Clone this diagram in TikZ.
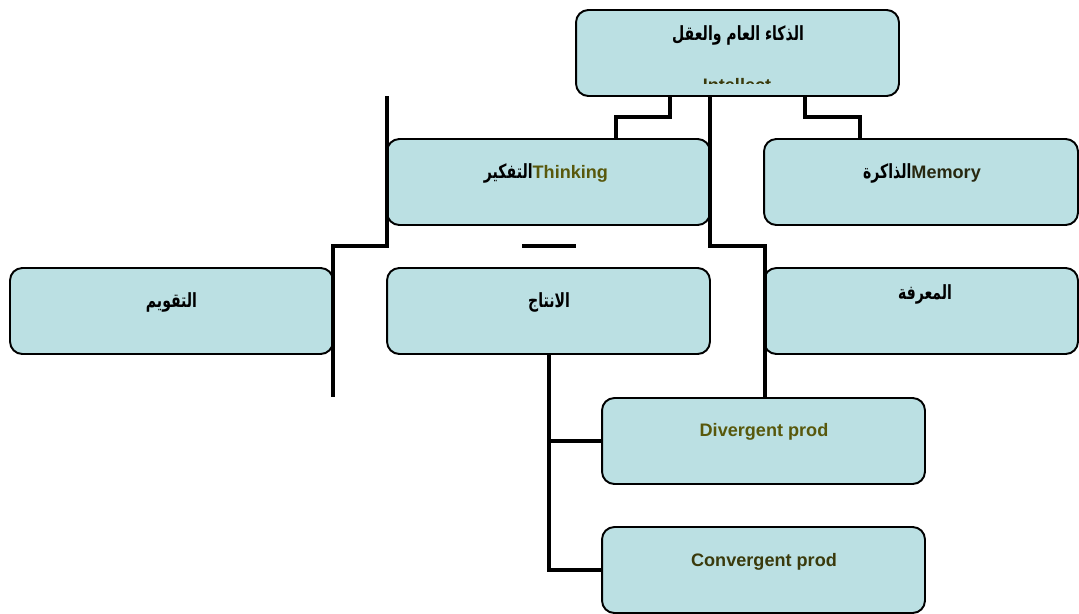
\documentclass[tikz,border=0pt]{standalone}
\usepackage{fontspec}
\setmainfont{Liberation Sans}
\newfontfamily\arabicfont[Script=Arabic,FakeStretch=0.72,Scale=1.08]{DejaVu Sans}
\TeXXeTstate=1
\usepackage{tikz}

\definecolor{boxfill}{RGB}{187,224,227}
\definecolor{txtolive}{RGB}{88,88,12}
\definecolor{txtdark}{RGB}{58,58,12}
\definecolor{txtdeep}{RGB}{40,40,16}

\tikzset{
	box/.style={draw,line width=1.1pt,rounded corners=7pt,fill=boxfill,minimum width=6.46cm,minimum height=1.72cm,inner sep=0pt},
	widebox/.style={box,minimum width=6.28cm},
	lbl/.style={anchor=base,inner sep=0pt,font=\bfseries\fontsize{10.3}{12}\selectfont},
	conn/.style={line width=2.8pt}
}

\begin{document}
\begin{tikzpicture}[x=0.02cm,y=-0.02cm]
		\useasboundingbox (0,0) rectangle (1079,613);
		\node[box] (intel) at (737.5,53) {};
		\node[box] (think) at (548.5,182) {};
		\node[widebox] (memory) at (921,182) {};
		\node[box] (eval) at (171.5,311) {};
		\node[box] (prod) at (548.5,311) {};
		\node[widebox] (know) at (921,311) {};
		\node[box] (div) at (763.5,441) {};
		\node[box] (conv) at (763.5,570) {};
		%
		\node[lbl] (intelA) at (738,40) {\arabicfont\beginR الذكاء العام والعقل\endR};
		\begin{scope}
			\clip (577,10) rectangle (898,83);
			\node[lbl,text=txtdark] (intelE) at (737,91) {Intellect};
		\end{scope}
		\node[lbl] (thinkT) at (546,178) {{\arabicfont\beginR التفكير\endR}\textcolor{txtolive}{Thinking}};
		\node[lbl] (memoryT) at (922,178) {{\arabicfont\beginR الذاكرة\endR}\textcolor{txtdeep}{Memory}};
		\node[lbl] (evalT) at (171.5,307) {\arabicfont\beginR التقويم\endR};
		\node[lbl] (prodT) at (549,307) {\arabicfont\beginR الانتاج\endR};
		\node[lbl] (knowT) at (925,299) {\arabicfont\beginR المعرفة\endR};
		\node[lbl,text=txtolive] (divT) at (764,436) {Divergent prod};
		\node[lbl,text=txtdark] (convT) at (764,566) {Convergent prod};
		%
		\coordinate (ltop) at (387,96);
		\coordinate (lbot) at (333,397);
		\coordinate (dashL) at (522,246);
		\coordinate (dashR) at (576,246);
		%
		\draw[conn] (intel.south -| 670,0) |- (616,117) -- (think.north -| 616,0);
		\draw[conn] (intel.south -| 805,0) |- (860,117) -- (memory.north -| 860,0);
		\draw[conn] (intel.south -| 710,0) |- (765,246) -- (div.north -| 765,0);
		\draw[conn] (ltop) |- (333,246) -- (lbot);
		\draw[conn] (dashL) -- (dashR);
		\draw[conn] (prod.south -| 549,0) |- (conv.west);
		\draw[conn] (549,0 |- div.west) -- (div.west);
\end{tikzpicture}
\end{document}
